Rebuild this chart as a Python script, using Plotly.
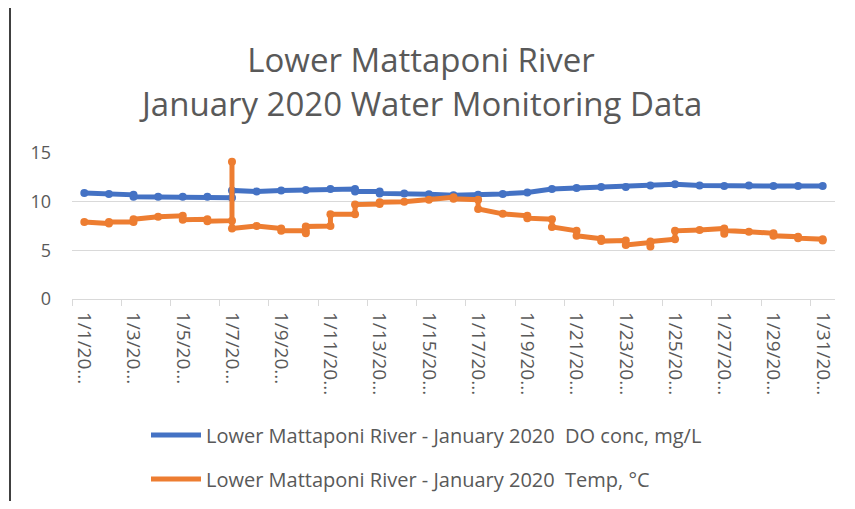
import plotly.graph_objects as go

# day of month (January 2020) and the readings logged on each day
days = list(range(1, 32))

do_readings = [
    [10.9], [10.8], [10.7, 10.5], [10.5], [10.5], [10.5], [10.4, 11.15], [11.05],
    [11.15], [11.2], [11.3], [11.3, 11.05], [11.05, 10.85], [10.85], [10.75],
    [10.65], [10.7], [10.8], [10.95], [11.3], [11.4], [11.5], [11.5], [11.65],
    [11.8], [11.65], [11.6], [11.65], [11.6], [11.6], [11.6],
]

temp_readings = [
    [7.9], [7.75, 7.9], [7.9, 8.2], [8.45], [8.55, 8.15], [8.2, 8.0],
    [8.05, 14.1, 7.25], [7.5], [7.25, 7.0], [7.0, 6.75, 7.45], [7.5, 8.7],
    [8.7, 9.7], [9.75, 9.95], [10.0], [10.2], [10.45, 10.3], [10.2, 9.25],
    [8.75], [8.55, 8.3], [8.2, 7.4], [7.0, 6.5], [6.2, 5.95], [6.0, 5.55],
    [5.8, 5.4, 5.9], [6.15, 7.0], [7.1], [7.25, 6.7, 7.05], [6.9], [6.75, 6.5],
    [6.4, 6.25], [6.15, 6.0],
]

tick_days = [1, 3, 5, 7, 9, 11, 13, 15, 17, 19, 21, 23, 25, 27, 29, 31]
tick_labels = ["1/1/20...", "1/3/20...", "1/5/20...", "1/7/20...", "1/9/20...",
               "1/11/20...", "1/13/20...", "1/15/20...", "1/17/20...", "1/19/20...",
               "1/21/20...", "1/23/20...", "1/25/20...", "1/27/20...", "1/29/20...",
               "1/31/20..."]

series_names = ["Lower Mattaponi River - January 2020\u00a0 DO conc, mg/L",
                "Lower Mattaponi River - January 2020\u00a0 Temp, °C"]

BLUE = "#4472C4"
ORANGE = "#ED7D31"
GREY = "#595959"
GRID = "#D9D9D9"

# the page body adds an 8px margin, so the figure is a bit smaller than the window
OFF = 8
W, H = 855 - OFF, 509 - 2 * OFF
L, R, T, B = 64, 20, 145, 202
pw, ph = W - L - R, H - T - B


def cx(px):  # window pixel -> container fraction
    return (px - OFF) / W


def cy(py):
    return 1 - (py - OFF) / H


def px_paper(px):  # window pixel -> plot paper fraction
    return (px - OFF - L) / pw


def py_paper(py):
    return (H - B - (py - OFF)) / ph


def flatten(readings):
    xs, ys = [], []
    for d, vals in zip(days, readings):
        for v in vals:
            xs.append(d)
            ys.append(v)
    return xs, ys


fig = go.Figure()
for readings, color, name, leg in [(do_readings, BLUE, series_names[0], "legend"),
                                   (temp_readings, ORANGE, series_names[1], "legend2")]:
    xs, ys = flatten(readings)
    fig.add_trace(go.Scatter(x=xs, y=ys, mode="lines+markers", showlegend=False,
                             line=dict(color=color, width=5),
                             marker=dict(color=color, size=8)))
    # legend entry drawn as a plain line, like the original
    fig.add_trace(go.Scatter(x=[None], y=[None], mode="lines", name=name, legend=leg,
                             line=dict(color=color, width=5)))

legend_style = dict(xref="container", yref="container", xanchor="left", yanchor="middle",
                    font=dict(size=20, color=GREY), bgcolor="rgba(0,0,0,0)",
                    itemwidth=50)

fig.update_layout(
    width=W, height=H,
    margin=dict(l=L, r=R, t=T, b=B, autoexpand=False),
    paper_bgcolor="white", plot_bgcolor="white",
    font=dict(family="Open Sans", color=GREY),
    title=dict(text="Lower Mattaponi River", xref="container", yref="container",
               x=cx(421), xanchor="center", y=cy(60), yanchor="middle",
               font=dict(size=33, color=GREY)),
    legend=dict(x=cx(146), y=cy(435), **legend_style),
    legend2=dict(x=cx(146), y=cy(479), **legend_style),
    xaxis=dict(range=[0.5, 31.5], tickmode="array", tickvals=tick_days, ticktext=tick_labels,
               tickangle=90, ticks="", showgrid=False, zeroline=False,
               showline=True, linecolor=GRID, linewidth=1.3, ticklabelstandoff=8,
               tickfont=dict(size=19, color=GREY),
               minor=dict(ticks="outside", tick0=0.5, dtick=2, ticklen=6,
                          tickcolor=GRID, tickwidth=1.3, showgrid=False)),
    yaxis=dict(range=[0, 15], tickmode="linear", tick0=0, dtick=5,
               showgrid=True, gridcolor=GRID, gridwidth=1.3, zeroline=False,
               showline=False, ticks="", ticklabelstandoff=20,
               tickfont=dict(size=18, color=GREY)),
)

fig.add_annotation(text="January 2020 Water Monitoring Data", xref="paper", yref="paper",
                   x=px_paper(420), y=py_paper(103), xanchor="center", yanchor="middle",
                   showarrow=False, font=dict(size=33, color=GREY))

# chart border: only the left edge shows in the original crop
xp = px_paper(10)
fig.add_shape(type="line", xref="paper", yref="paper", x0=xp, x1=xp,
              y0=-(B + 2) / ph, y1=(ph + T + 2) / ph,
              line=dict(color="black", width=1.5))

fig.write_html("out.html")
